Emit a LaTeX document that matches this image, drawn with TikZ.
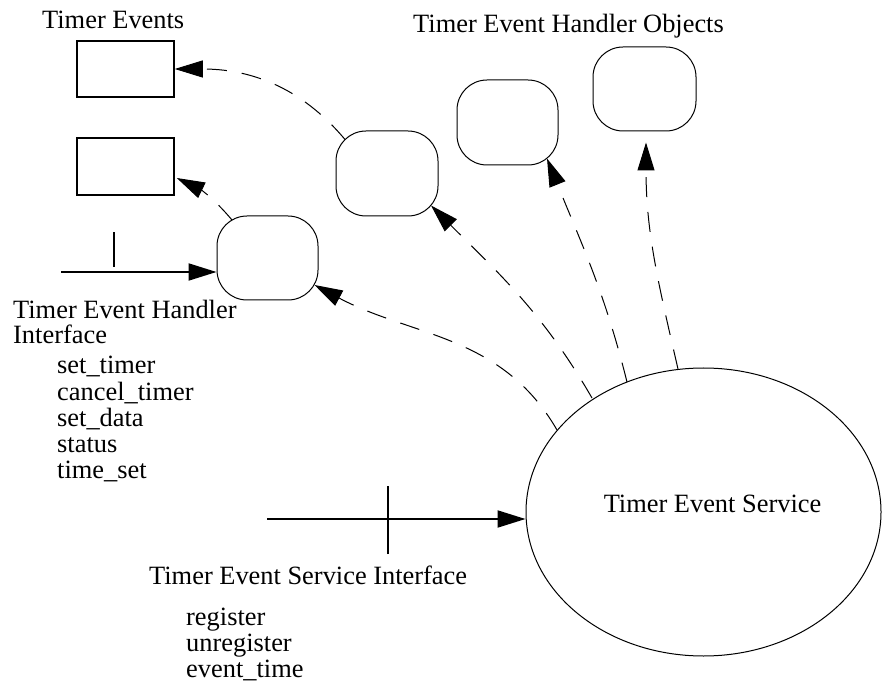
\documentclass[tikz,border=0pt]{standalone}
\usepackage{fontspec}
\setmainfont{Liberation Serif}
\usetikzlibrary{arrows.meta,shapes.geometric}
\begin{document}
\begin{tikzpicture}[x=1pt,y=1pt,
  lbl/.style={inner sep=0pt, anchor=base west, font=\fontsize{26.4}{28}\selectfont},
  oval/.style={draw, line width=1pt, rounded corners=30pt, minimum width=101pt, minimum height=84pt, inner sep=0pt},
  evbox/.style={draw, line width=1.5pt, minimum width=97pt, minimum height=56pt, inner sep=0pt},
  dasharrow/.style={line width=1pt, dash pattern=on 20pt off 15pt, -{Triangle[length=28pt,width=17pt]}},
  solidarrow/.style={line width=2pt, -{Triangle[length=28pt,width=17pt]}},
  tickline/.style={line width=2pt}
]
\useasboundingbox (0,0) rectangle (882,683);

% boxes and ovals
\node[evbox] (R1) at (125.5,614) {};
\node[evbox, minimum height=57pt] (R2) at (125.5,516.5) {};
\node[oval] (A) at (267.5,425) {};
\node[oval, minimum width=102pt, minimum height=85pt] (B) at (387,509.5) {};
\node[oval, minimum height=85pt] (C) at (507.5,560.5) {};
\node[oval, minimum width=103pt] (D) at (644.5,594) {};
\node[draw, ellipse, line width=1pt, minimum width=355pt, minimum height=288pt, inner sep=0pt] (S) at (703.5,171) {};

% labels
\node[lbl, anchor=base] (Stxt) at (712.5,171) {Timer Event Service};
\node[lbl] (tTE) at (42,654) {Timer Events};
\node[lbl] (tTEHO) at (413,650) {Timer Event Handler Objects};
\node[lbl] (tH1) at (13,364) {Timer Event Handler};
\node[lbl] (tH2) at (13,339) {Interface};
\node[lbl] (h1) at (57,309) {set\_timer};
\node[lbl] (h2) at (57,283) {cancel\_timer};
\node[lbl] (h3) at (57,257) {set\_data};
\node[lbl] (h4) at (57,231) {status};
\node[lbl] (h5) at (57,205) {time\_set};
\node[lbl] (tS) at (149,99) {Timer Event Service Interface};
\node[lbl] (s1) at (186,58) {register};
\node[lbl] (s2) at (186,32) {unregister};
\node[lbl] (s3) at (186,6) {event\_time};

% handler interface
\coordinate (hin) at (61,411);
\draw[solidarrow] (hin) -- ([yshift=-14pt]A.west);
\coordinate (ht1) at (114,416);
\coordinate (ht2) at (114,451);
\draw[tickline] (ht1) -- (ht2);

% service interface
\coordinate (sin) at (267,164);
\draw[solidarrow] (sin) -- (S.west |- sin);
\coordinate (st1) at (388,129);
\coordinate (st2) at (388,197);
\draw[tickline] (st1) -- (st2);

% dashed arrows
\draw[dasharrow] ([shift={(-42pt,34pt)}]B.center) to[out=130,in=0] (R1.east);
\draw[dasharrow] ([shift={(-35.5pt,38pt)}]A.center) to[out=130,in=-26] ([shift={(2pt,-11.5pt)}]R2.east);
\draw[dasharrow] ([shift={(-146.5pt,82pt)}]S.center) to[out=120,in=-28] ([shift={(47pt,-27pt)}]A.center);
\draw[dasharrow] ([shift={(-111.5pt,114pt)}]S.center) to[out=120,in=-45] ([shift={(44pt,-32pt)}]B.center);
\draw[dasharrow] ([shift={(-76.5pt,130pt)}]S.center) to[out=104,in=-68] ([shift={(39.5pt,-36pt)}]C.center);
\draw[dasharrow] ([shift={(-25.5pt,143pt)}]S.center) to[out=103,in=-90] ([shift={(1.5pt,-11pt)}]D.south);
\end{tikzpicture}
\end{document}
